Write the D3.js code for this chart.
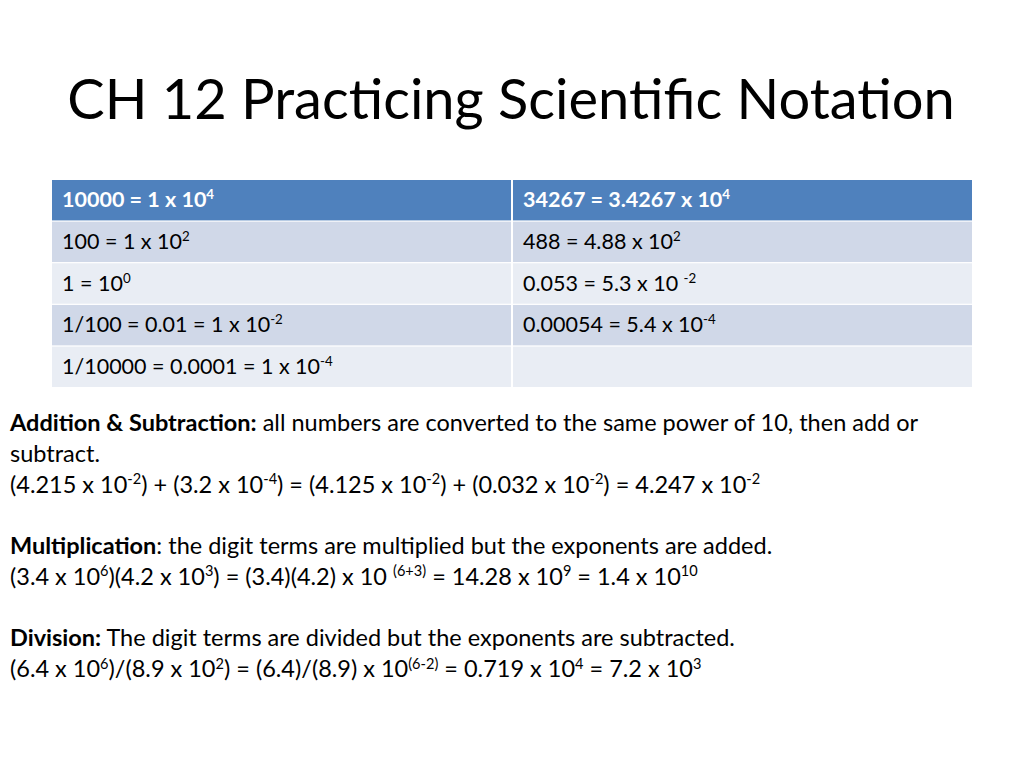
<!DOCTYPE html>
<html>
<head>
<meta charset="utf-8">
<script src="https://cdn.jsdelivr.net/npm/d3@7"></script>
<style>
  body { margin: 0; background: #fff; }
  svg { font-family: Lato, "Open Sans", sans-serif; }
</style>
</head>
<body>
<svg id="slide" width="1024" height="768"></svg>
<script>
// ^{..} = exposant, *..* = gras
const titre = "CH 12 Practicing Scientific Notation";
const colGauche = ["10000 = 1 x 10^{4}", "100 = 1 x 10^{2}", "1 = 10^{0}",
  "1/100 = 0.01 = 1 x 10^{-2}", "1/10000 = 0.0001 = 1 x 10^{-4}"];
const colDroite = ["34267 = 3.4267 x 10^{4}", "488 = 4.88 x 10^{2}", "0.053 = 5.3 x 10 ^{-2}",
  "0.00054 = 5.4 x 10^{-4}", ""];
const lignesTexte = [
  "*Addition & Subtraction:* all numbers are converted to the same power of 10, then add or",
  "subtract.",
  "(4.215 x 10^{-2}) + (3.2 x 10^{-4}) = (4.125 x 10^{-2}) + (0.032 x 10^{-2}) = 4.247 x 10^{-2}",
  "",
  "*Multiplication*: the digit terms are multiplied but the exponents are added.",
  "(3.4 x 10^{6})(4.2 x 10^{3}) = (3.4)(4.2) x 10 ^{(6+3)} = 14.28 x 10^{9} = 1.4 x 10^{10}",
  "",
  "*Division:* The digit terms are divided but the exponents are subtracted.",
  "(6.4 x 10^{6})/(8.9 x 10^{2}) = (6.4)/(8.9) x 10^{(6-2)} = 0.719 x 10^{4} = 7.2 x 10^{3}"
];

const svg = d3.select("#slide");

// découpe une chaîne en morceaux {texte, sup, gras}
function morceaux(s) {
  const out = [];
  const re = /\^\{([^}]*)\}|\*([^*]*)\*|([^^*]+)/g;
  let m;
  while ((m = re.exec(s)) !== null) {
    if (m[1] !== undefined) out.push({ t: m[1], sup: true });
    else if (m[2] !== undefined) out.push({ t: m[2], bold: true });
    else out.push({ t: m[3] });
  }
  return out;
}

function ecrire(sel, s, taille) {
  sel.selectAll("tspan").data(morceaux(s)).join("tspan")
    .attr("font-weight", d => d.bold ? "bold" : null)
    .attr("font-size", d => d.sup ? taille * 0.62 : taille)
    .attr("dy", (d, i, n) => {
      const prev = i > 0 ? n[i - 1].__data__ : null;
      if (d.sup && !(prev && prev.sup)) return -taille * 0.36;
      if (!d.sup && prev && prev.sup) return taille * 0.36;
      return 0;
    })
    .text(d => d.t);
}

svg.append("text").attr("x", 511).attr("y", 119).attr("text-anchor", "middle")
  .attr("font-size", 56).attr("fill", "#000").text(titre);

// tableau
const y = d3.scaleBand().domain(d3.range(colGauche.length)).range([180, 387]).paddingInner(0.03);
const x = d3.scaleOrdinal().domain([0, 1]).range([52, 513]);
const largeur = [459, 459];
const lignes = svg.append("g").selectAll("g").data(d3.range(colGauche.length)).join("g");
[colGauche, colDroite].forEach((col, c) => {
  lignes.append("rect")
    .attr("x", x(c)).attr("y", i => y(i))
    .attr("width", largeur[c]).attr("height", y.bandwidth())
    .attr("fill", i => i === 0 ? "#4f81bd" : (i % 2 ? "#d0d8e8" : "#e9edf4"));
  lignes.append("text")
    .attr("x", x(c) + 10).attr("y", i => y(i) + y.bandwidth() / 2 + 7)
    .attr("fill", i => i === 0 ? "#fff" : "#000")
    .attr("font-weight", i => i === 0 ? "bold" : null)
    .each(function (i) { ecrire(d3.select(this), col[i], 21.5); });
});

// notes
const yTexte = d3.scaleLinear().domain([0, 8]).range([431, 677]);
svg.append("g").selectAll("text").data(lignesTexte).join("text")
  .attr("x", 10).attr("y", (d, i) => yTexte(i)).attr("fill", "#000")
  .each(function (d) { ecrire(d3.select(this), d, 23.5); });
</script>
</body>
</html>
